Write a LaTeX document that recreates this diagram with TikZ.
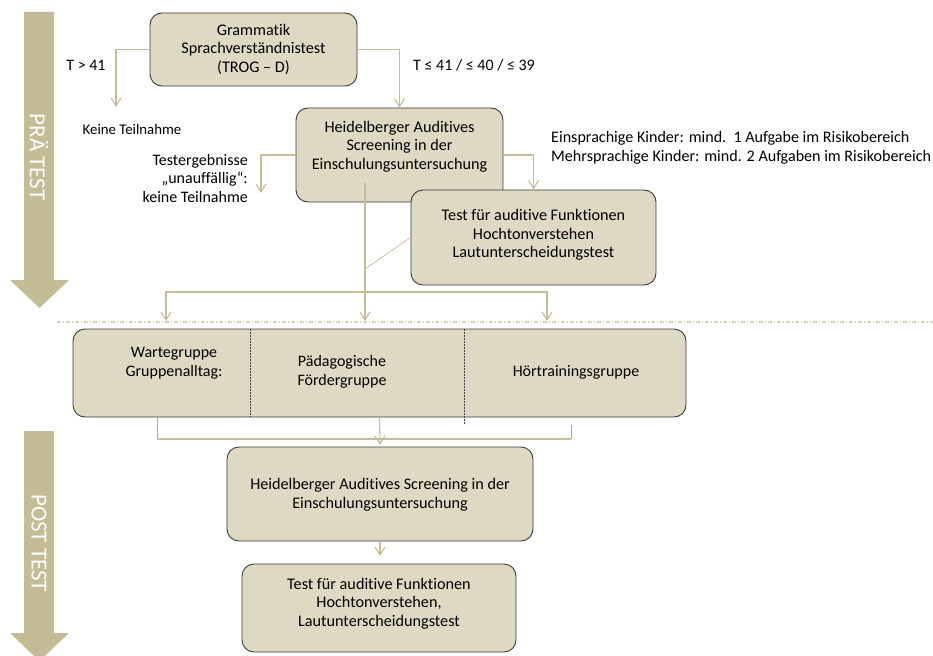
\documentclass[tikz,border=0pt]{standalone}
\usepackage{fontspec}
\setmainfont{Carlito}[Ligatures={NoCommon,NoContextual}]
\usetikzlibrary{arrows.meta}
\definecolor{boxfill}{HTML}{DDD9C3}
\definecolor{boxline}{HTML}{3A3A3A}
\definecolor{conncol}{HTML}{C4BD97}
\definecolor{bigarrow}{HTML}{C4BC96}
\definecolor{dotline}{HTML}{D8D2B8}
\definecolor{bluel}{HTML}{8EAADB}
\begin{document}
\begin{tikzpicture}[x=1pt,y=-1pt,
  box/.style={draw=boxline, fill=boxfill, line width=0.9pt, rounded corners=12pt, inner sep=0pt},
  txt/.style={align=center, inner sep=0pt, font=\fontsize{16.2}{18.6}\selectfont},
  gtxt/.style={align=center, inner sep=0pt, font=\fontsize{16}{18.5}\selectfont},
  lbl/.style={inner sep=0pt, font=\fontsize{16}{18.6}\selectfont},
  connector/.style={draw=conncol, line width=1.1pt},
  barb/.tip={Straight Barb[length=8pt,width=10pt,line width=1.1pt]},
  arr/.style={connector, -barb},
  bigtxt/.style={rotate=-90, text=white, inner sep=0pt, font=\fontsize{23}{23}\selectfont}
]
\useasboundingbox (0,0) rectangle (933,655);

% big phase arrows
\fill[bigarrow] (24,12) -- (54,12) -- (54,280) -- (69,280) -- (39.5,308) -- (10,280) -- (24,280) -- cycle;
\node[bigtxt] (pra) at (39,157) {PRÄ TEST};
\fill[bigarrow] (24,431) -- (54,431) -- (54,633) -- (69,633) -- (39.5,661) -- (10,633) -- (24,633) -- cycle;
\node[bigtxt] (post) at (39,543) {POST TEST};

% separator
\draw[dotline, line width=1.5pt, dash pattern=on 4pt off 2pt on 1pt off 2pt] (57,322) -- (933,322);

% boxes
\node[box, minimum width=207pt, minimum height=73pt] (gram) at (253.5,49.5) {};
\node[txt] (gramt) at (253.5,49.5) {Grammatik\\Sprachverständnistest\\(TROG -- D)};

\node[box, minimum width=207pt, minimum height=94pt] (has1) at (399.5,155) {};
\node[txt] (has1t) at (399.5,146.5) {Heidelberger Auditives\\Screening in der\\Einschulungsuntersuchung};

\node[box, minimum width=245pt, minimum height=95pt] (tfa1) at (533.5,237.5) {};
\node[txt] (tfa1t) at (533.5,235) {Test für auditive Funktionen\\Hochtonverstehen\\Lautunterscheidungstest};

\node[box, minimum width=613pt, minimum height=88pt] (grp) at (379.5,373) {};
\node[gtxt] (wg) at (174,363) {Wartegruppe\\Gruppenalltag:};
\node[gtxt] (pf) at (342,372) {Pädagogische\\Fördergruppe};
\node[gtxt] (ht) at (576,372) {Hörtrainingsgruppe};
\draw[black!75, line width=0.8pt, dash pattern=on 2pt off 1pt] (250,329) -- (250,417);
\draw[black!75, line width=0.8pt, dash pattern=on 2pt off 1pt] (464,329) -- (464,424);

\node[box, minimum width=306pt, minimum height=94pt] (has2) at (380,494) {};
\node[txt] (has2t) at (380,494.5) {Heidelberger Auditives Screening in der\\Einschulungsuntersuchung};

\node[box, minimum width=274pt, minimum height=88pt] (tfa2) at (379,608) {};
\node[txt] (tfa2t) at (379,603.5) {Test für auditive Funktionen\\Hochtonverstehen,\\Lautunterscheidungstest};

% labels
\node[lbl] (tgt) at (86,65) {T > 41};
\node[lbl, anchor=west] (tle) at (413,65) {T ≤ 41 / ≤ 40 / ≤ 39};
\node[lbl, font=\fontsize{14.8}{17}\selectfont] (kt) at (132,129) {Keine Teilnahme};
\node[lbl, anchor=east, align=right] (unauf) at (248,178.5) {Testergebnisse\\„unauffällig“:\\keine Teilnahme};
\node[lbl, anchor=west, align=left, font=\fontsize{16.1}{19}\selectfont] (ein) at (551,148) {Einsprachige Kinder: mind.\ \ 1 Aufgabe im Risikobereich\\Mehrsprachige Kinder: mind. 2 Aufgaben im Risikobereich};

% connectors
\coordinate (ktA) at (116,107);
\draw[arr] (gram.west) -| (ktA);
\draw[arr] (gram.east) -| (has1.north);
\coordinate (tuA) at (261,193);
\draw[arr] (has1.west) -| (tuA);
\draw[arr] (has1.east) -| (tfa1.north);
\coordinate (vtop) at (365,183);
\coordinate (vbot) at (365,321);
\draw[arr] (vtop) -- (vbot);
\coordinate (diag) at (365,269);
\draw[connector, line width=0.7pt] (tfa1.west) -- (diag);
\coordinate (bl) at (166,292);
\coordinate (br) at (547,292);
\coordinate (al) at (166,321);
\coordinate (ar) at (547,321);
\draw[connector, barb-barb] (al) -- (bl) -- (br) -- (ar);

\coordinate (bkLt) at (157,417);
\coordinate (bkLb) at (157,439);
\coordinate (bkRt) at (571,425);
\coordinate (bkRb) at (571,439);
\draw[bluel, line width=1pt] (bkLt) -- (bkLb);
\draw[bluel, line width=1pt] (bkRt) -- (bkRb);
\draw[connector] (bkLb) -- (bkRb);
\coordinate (has2in) at (380,445);
\draw[arr] (grp.south) -- (has2in);
\coordinate (tfa2in) at (380,556);
\draw[arr] (has2.south) -- (tfa2in);
\end{tikzpicture}
\end{document}
